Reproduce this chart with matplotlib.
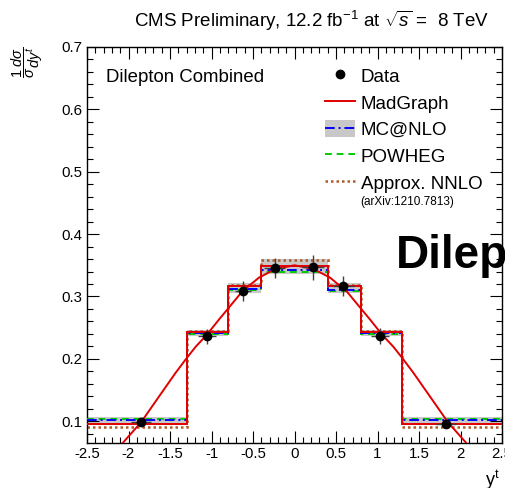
import matplotlib
matplotlib.use('Agg')
import matplotlib.pyplot as plt
from matplotlib.lines import Line2D
from matplotlib.patches import Patch
from matplotlib.ticker import MultipleLocator, FormatStrFormatter

# ---------------- data ----------------
edges = [-2.5, -1.3, -0.8, -0.4, 0.0, 0.4, 0.8, 1.3, 2.5]
madgraph = [0.0955, 0.243, 0.3175, 0.349, 0.349, 0.3175, 0.243, 0.0955]
mcatnlo = [0.1016, 0.241, 0.312, 0.342, 0.342, 0.311, 0.241, 0.1016]
powheg = [0.1027, 0.240, 0.3105, 0.340, 0.340, 0.309, 0.240, 0.1027]
nnlo = [0.090, 0.244, 0.319, 0.358, 0.358, 0.319, 0.244, 0.090]
band_lo = [0.094, 0.236, 0.305, 0.336, 0.336, 0.305, 0.236, 0.094]
band_hi = [0.106, 0.247, 0.321, 0.360, 0.360, 0.321, 0.247, 0.106]

curve_x = [-2.2, -2.07, -1.85, -1.63, -1.43, -1.30, -1.19, -1.06, -0.91, -0.81,
           -0.63, -0.43, -0.23, 0.0, 0.23, 0.43, 0.63, 0.81, 0.91, 1.06, 1.19,
           1.30, 1.43, 1.63, 1.85, 2.07, 2.2]
curve_y = [0.043, 0.065, 0.098, 0.140, 0.178, 0.201, 0.2195, 0.238, 0.263, 0.279,
           0.308, 0.330, 0.344, 0.350, 0.344, 0.330, 0.308, 0.279, 0.263, 0.238,
           0.2195, 0.201, 0.178, 0.140, 0.098, 0.065, 0.043]

data_x = [-1.85, -1.05, -0.62, -0.24, 0.22, 0.59, 1.03, 1.82]
data_y = [0.098, 0.236, 0.3095, 0.345, 0.347, 0.316, 0.236, 0.096]
data_yerr = [0.004, 0.012, 0.016, 0.016, 0.02, 0.016, 0.013, 0.005]
data_xerr = [0.12, 0.11, 0.10, 0.13, 0.13, 0.13, 0.11, 0.12]

legend_labels = ['Data', 'MadGraph', 'MC@NLO', 'POWHEG', 'Approx. NNLO']

# ---------------- style ----------------
plt.rcParams.update({
    'font.family': ['Liberation Sans', 'DejaVu Sans'],
    'mathtext.fontset': 'custom',
    'mathtext.rm': 'Liberation Sans',
    'mathtext.it': 'Liberation Sans:italic',
    'mathtext.bf': 'Liberation Sans:bold',
    'mathtext.sf': 'Liberation Sans',
    'axes.unicode_minus': False,
})

RED = '#e00000'
BLUE = '#0000ff'
GREEN = '#00cc00'
BROWN = '#b05a2a'
GRAY = '#c8c8c8'

W, H = 505, 488
fig = plt.figure(figsize=(W / 100, H / 100), dpi=100)
fig.patch.set_facecolor('white')
ax = fig.add_axes([87 / W, 1 - 443 / H, (502 - 87) / W, (443 - 47) / H])

ax.stairs(band_hi, edges, baseline=band_lo, fill=True, color=GRAY, lw=0, zorder=1)
ax.stairs(nnlo, edges, baseline=None, color=BROWN, ls=(0, (1.0, 1.2)), lw=1.8, zorder=2)
ax.stairs(powheg, edges, baseline=None, color=GREEN, ls=(0, (3.5, 2.5)), lw=1.4, zorder=3)
ax.stairs(mcatnlo, edges, baseline=None, color=BLUE, ls=(0, (5, 2, 1, 2)), lw=1.4, zorder=4)
ax.stairs(madgraph, edges, baseline=None, color=RED, lw=1.4, zorder=5)
ax.plot(curve_x, curve_y, color=RED, lw=1.4, zorder=6)
ax.errorbar(data_x, data_y, xerr=data_xerr, yerr=data_yerr, fmt='o', color='k',
            ms=6, ecolor='#404040', elinewidth=1.0, capsize=0, zorder=7)

ax.set_xlim(-2.5, 2.5)
ax.set_ylim(0.065, 0.7)
ax.xaxis.set_major_locator(MultipleLocator(0.5))
ax.xaxis.set_minor_locator(MultipleLocator(0.1))
ax.yaxis.set_major_locator(MultipleLocator(0.1))
ax.yaxis.set_minor_locator(MultipleLocator(0.02))
ax.xaxis.set_major_formatter(FormatStrFormatter('%g'))
ax.yaxis.set_major_formatter(FormatStrFormatter('%.1f'))
ax.tick_params(which='both', direction='in', top=True, right=True, width=0.8,
               labelsize=10.8, colors='black')
ax.tick_params(which='major', length=8.5)
ax.tick_params(which='minor', length=4.3)
ax.tick_params(axis='x', pad=3)
ax.tick_params(axis='y', pad=3.5)
for s in ax.spines.values():
    s.set_linewidth(1.0)

# legend
handles = [
    Line2D([], [], marker='o', color='k', ls='none', ms=6),
    Line2D([], [], color=RED, lw=1.4),
    (Patch(facecolor=GRAY, edgecolor='none'),
     Line2D([], [], color=BLUE, ls=(0, (5, 2, 1, 2)), lw=1.4)),
    Line2D([], [], color=GREEN, ls=(0, (3.5, 2.5)), lw=1.4),
    Line2D([], [], color=BROWN, ls=(0, (1.0, 1.2)), lw=1.8),
]
ax.legend(handles, legend_labels, loc='upper left',
          bbox_to_anchor=(325 / W, 1 - 67 / H), bbox_transform=fig.transFigure,
          frameon=False, fontsize=13.5, handlelength=1.6, handletextpad=0.32,
          labelspacing=0.42, borderpad=0, borderaxespad=0, handleheight=1.0,
          numpoints=1)

fig.text(360 / W, 1 - 202 / H, '(arXiv:1210.7813)', fontsize=8.5,
         ha='left', va='center')
fig.text(106 / W, 1 - 82 / H, 'Dilepton Combined', fontsize=13.4,
         ha='left', va='baseline')
fig.text(489 / W, 1 - 27 / H, r'CMS Preliminary, 12.2 fb$^{-1}$ at $\sqrt{s}$ =  8 TeV',
         fontsize=13.5, ha='right', va='baseline')
fig.text(396 / W, 1 - 268 / H, 'Dilepton', fontsize=33, fontweight='bold',
         ha='left', va='baseline')
fig.text(27 / W, 1 - 46 / H, r'$\dfrac{1}{\sigma}\dfrac{d\sigma}{dy^{t}}$',
         fontsize=10.5, rotation=90, ha='center', va='top')
fig.text(500 / W, 1 - 486 / H, r'$\mathrm{y}^{\mathrm{t}}$', fontsize=13,
         ha='right', va='baseline')

fig.savefig('out.png', dpi=100)
